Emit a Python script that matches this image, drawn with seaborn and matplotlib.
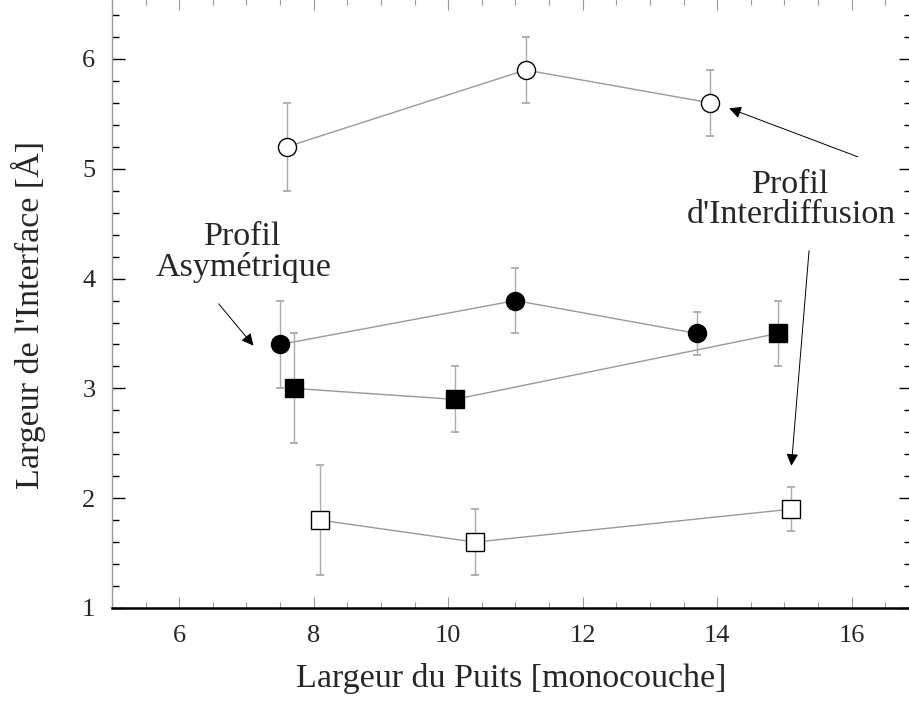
import matplotlib
matplotlib.use("Agg")
import matplotlib.pyplot as plt
import seaborn as sns
import pandas as pd
from matplotlib.ticker import MultipleLocator

# Data
open_circ_x = [7.6, 11.15, 13.9]
open_circ_y = [5.2, 5.9, 5.6]
open_circ_err = [0.4, 0.3, 0.3]

fill_circ_x = [7.5, 11.0, 13.7]
fill_circ_y = [3.4, 3.8, 3.5]
fill_circ_err = [0.4, 0.3, 0.2]

fill_sq_x = [7.7, 10.1, 14.9]
fill_sq_y = [3.0, 2.9, 3.5]
fill_sq_err = [0.5, 0.3, 0.3]

open_sq_x = [8.1, 10.4, 15.1]
open_sq_y = [1.8, 1.6, 1.9]
open_sq_err = [0.5, 0.3, 0.2]

sns.set_style("ticks")
plt.rcParams['font.family'] = ['Liberation Serif', 'DejaVu Serif']
plt.rcParams['mathtext.fontset'] = 'stix'

fig = plt.figure(figsize=(9.09, 7.04), dpi=100)
ax = fig.add_axes([112/909, 96/704, 1 - 112/909 + 0.002, 1 - 96/704 + 0.002])

series = [
    (open_circ_x, open_circ_y, open_circ_err, 'o', 'white', 13),
    (fill_circ_x, fill_circ_y, fill_circ_err, 'o', 'black', 13),
    (fill_sq_x, fill_sq_y, fill_sq_err, 's', 'black', 13),
    (open_sq_x, open_sq_y, open_sq_err, 's', 'white', 12.5),
]

for xs, ys, es, mk, fc, ms in series:
    df = pd.DataFrame({'x': xs, 'y': ys})
    eb = ax.errorbar(xs, ys, yerr=es, fmt='none', ecolor='#aaaaaa', elinewidth=1.0,
                     capsize=3, capthick=1.3, zorder=1)
    for cap in eb[1]:
        cap.set_color('black')
    sns.lineplot(data=df, x='x', y='y', ax=ax, color='#999999', linewidth=1.0,
                 sort=False, zorder=2, legend=False)
    ax.plot(xs, ys, linestyle='none', marker=mk, markersize=ms, markerfacecolor=fc,
            markeredgecolor='black', markeredgewidth=1.0, zorder=3)

ax.set_xlim(5, 16.88)
ax.set_ylim(1, 6.55)
ax.xaxis.set_major_locator(MultipleLocator(2))
ax.xaxis.set_minor_locator(MultipleLocator(0.5))
ax.yaxis.set_major_locator(MultipleLocator(1))
ax.yaxis.set_minor_locator(MultipleLocator(0.2))
ax.tick_params(which='both', direction='in', top=True, right=True, labelsize=19)
ax.tick_params(axis='x', which='both', color='#999999', width=0.8)
ax.tick_params(axis='y', which='both', color='black', width=1.0)
ax.tick_params(axis='x', which='major', length=8, pad=12)
ax.tick_params(axis='x', which='minor', length=4)
ax.tick_params(axis='y', which='major', length=9, pad=12)
ax.tick_params(axis='y', which='minor', length=5)
ax.spines['bottom'].set_linewidth(1.8)
ax.spines['bottom'].set_color('black')
ax.spines['left'].set_linewidth(1.0)
ax.spines['left'].set_color('#999999')
ax.spines['top'].set_visible(False)
ax.spines['right'].set_visible(False)

ax.set_xlabel("Largeur du Puits [monocouche]", fontsize=24.5, labelpad=12)
ax.set_ylabel("Largeur de l'Interface [Å]", fontsize=24.5)
ax.yaxis.set_label_coords(-0.082, 0.48)

ax.text(6.95, 4.24, "Profil\nAsymétrique", fontsize=24.5, ha='center', va='center',
        linespacing=1.0)
ax.annotate("", xy=(7.13, 3.37), xytext=(6.56, 3.79),
            arrowprops=dict(arrowstyle='-|>', color='black', lw=0.7, mutation_scale=18))

ax.text(15.1, 4.72, "Profil\nd'Interdiffusion", fontsize=24.5, ha='center', va='center',
        linespacing=1.0)
ax.annotate("", xy=(14.14, 5.56), xytext=(16.13, 5.10),
            arrowprops=dict(arrowstyle='-|>', color='black', lw=0.7, mutation_scale=18))
ax.annotate("", xy=(15.10, 2.27), xytext=(15.37, 4.28),
            arrowprops=dict(arrowstyle='-|>', color='black', lw=0.7, mutation_scale=18))

fig.savefig("out.png", dpi=100)
